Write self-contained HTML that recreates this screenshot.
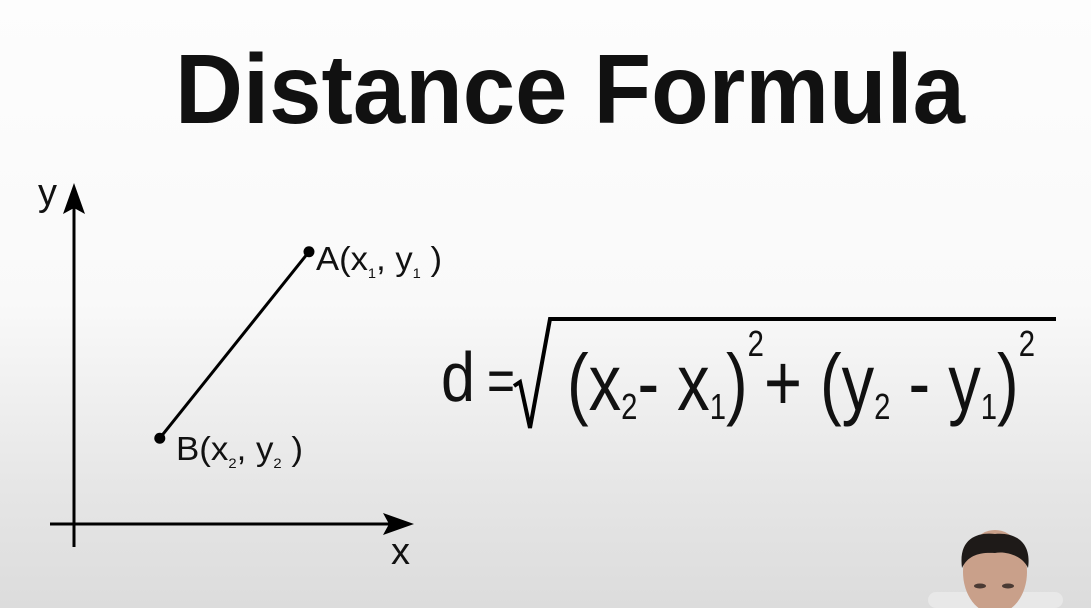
<!DOCTYPE html>
<html><head><meta charset="utf-8"><style>
html,body{margin:0;padding:0;}
body{width:1091px;height:608px;overflow:hidden;background:linear-gradient(#fdfdfd 0%,#f9f9f9 50%,#e6e6e6 80%,#dcdcdc 100%);}
svg{display:block;font-family:"Liberation Sans",sans-serif;}
</style></head><body>
<svg id="chart" width="1091" height="608" viewBox="0 0 1091 608">
  <text x="175" y="123" font-size="98" font-weight="bold" fill="#111" textLength="790" lengthAdjust="spacingAndGlyphs">Distance Formula</text>

  <g stroke="#000" fill="#000">
    <line x1="74" y1="547" x2="74" y2="205" stroke-width="3"/>
    <polygon points="74,183 63,214 74,208 85,214" stroke="none"/>
    <line x1="50" y1="524" x2="392" y2="524" stroke-width="3"/>
    <polygon points="414,524 383,513 389,524 383,535" stroke="none"/>
  </g>
  <text x="38" y="205" font-size="38" fill="#111">y</text>
  <text x="391" y="564" font-size="38" fill="#111">x</text>

  <g id="marks"></g>

  <text x="316" y="270" font-size="33" fill="#111" textLength="126" lengthAdjust="spacingAndGlyphs">A(x<tspan font-size="14" dy="8">1</tspan><tspan dy="-8">, y</tspan><tspan font-size="14" dy="8">1</tspan><tspan dy="-8"> )</tspan></text>
  <text x="176" y="460" font-size="33" fill="#111" textLength="127" lengthAdjust="spacingAndGlyphs">B(x<tspan font-size="14" dy="8">2</tspan><tspan dy="-8">, y</tspan><tspan font-size="14" dy="8">2</tspan><tspan dy="-8"> )</tspan></text>

  <g fill="#111">
    <text x="441" y="401" font-size="70" textLength="34" lengthAdjust="spacingAndGlyphs">d</text>
    <text x="487" y="401" font-size="60" textLength="28" lengthAdjust="spacingAndGlyphs">=</text>
    <polyline points="514,386 520,382 530,428 550,319 1056,319" fill="none" stroke="#000" stroke-width="4"/>
    <text x="567" y="410" font-size="80" textLength="468" lengthAdjust="spacingAndGlyphs">(x<tspan font-size="36" dy="9">2</tspan><tspan dy="-9">- x</tspan><tspan font-size="36" dy="9">1</tspan><tspan dy="-9">)</tspan><tspan font-size="36" dy="-54">2</tspan><tspan dy="54">+ (y</tspan><tspan font-size="36" dy="9">2</tspan><tspan dy="-9"> - y</tspan><tspan font-size="36" dy="9">1</tspan><tspan dy="-9">)</tspan><tspan font-size="36" dy="-54">2</tspan></text>
  </g>

  <g>
    <rect x="928" y="592" width="135" height="16" rx="8" fill="#e8e8e8"/>
    <ellipse cx="995" cy="572" rx="32" ry="42" fill="#c9a08a"/>
    <path d="M962,568 C958,538 978,532 995,534 C1015,532 1032,542 1028,568 C1022,555 1005,551 995,553 C980,552 968,555 962,568 Z" fill="#1e1a18"/>
    <ellipse cx="980" cy="586" rx="6" ry="2.5" fill="#4a3a33"/>
    <ellipse cx="1008" cy="586" rx="6" ry="2.5" fill="#4a3a33"/>
  </g>
</svg>
<script>
// diagram point data (abstract units)
const pointNames = ["A", "B"];
const pointX = [6.3, 2.3];
const pointY = [7.3, 2.3];
function xScale(v){ return 74 + v * 37.3; }
function yScale(v){ return 524 - v * 37.3; }
const NS = "http://www.w3.org/2000/svg";
const g = document.getElementById("marks");
const seg = document.createElementNS(NS, "line");


seg.setAttribute("x1", xScale(pointX[0])); seg.setAttribute("y1", yScale(pointY[0]));
seg.setAttribute("x2", xScale(pointX[1])); seg.setAttribute("y2", yScale(pointY[1]));
seg.setAttribute("stroke", "#000"); seg.setAttribute("stroke-width", "3");
g.appendChild(seg);
for (let i = 0; i < pointNames.length; i++) {
  const c = document.createElementNS(NS, "circle");
  
  
  c.setAttribute("cx", xScale(pointX[i]));
  c.setAttribute("cy", yScale(pointY[i]));
  c.setAttribute("r", "5.5");
  c.setAttribute("fill", "#000");
  g.appendChild(c);
}
</script>
</body></html>
